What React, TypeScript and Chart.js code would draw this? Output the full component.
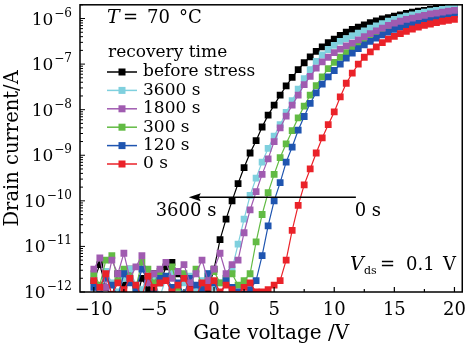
import React, { useEffect, useRef } from "react";
import { Chart, registerables } from "chart.js";

Chart.register(...registerables);

// Gate voltage sweep (V)
const gateVoltage: number[] = [
  -10, -9.5, -9, -8.5, -8, -7.5, -7, -6.5, -6, -5.5, -5, -4.5, -4, -3.5, -3, -2.5, -2, -1.5, -1, -0.5,
  0, 0.5, 1, 1.5, 2, 2.5, 3, 3.5, 4, 4.5, 5, 5.5, 6, 6.5, 7, 7.5, 8, 8.5, 9, 9.5,
  10, 10.5, 11, 11.5, 12, 12.5, 13, 13.5, 14, 14.5, 15, 15.5, 16, 16.5, 17, 17.5, 18, 18.5, 19, 19.5, 20,
];

// log10 of drain current (A)
const logBeforeStress: number[] = [
  -11.75, -11.4, -11.9, -12.1, -11.6, -11.85, -11.5, -12.2, -11.7, -11.95, -11.6, -11.8, -11.45, -11.35, -11.6, -11.75, -11.9, -12.05, -11.8, -11.95,
  -11.5, -10.85, -10.4, -10.0, -9.62, -9.27, -8.95, -8.68, -8.38, -8.12, -7.9, -7.68, -7.48, -7.29, -7.12, -6.97, -6.84, -6.72, -6.62, -6.53,
  -6.45, -6.37, -6.3, -6.24, -6.19, -6.14, -6.09, -6.05, -6.01, -5.98, -5.95, -5.92, -5.89, -5.86, -5.84, -5.82, -5.8, -5.78, -5.76, -5.74, -5.72,
];
const log3600s: number[] = [
  -11.65, -11.9, -11.55, -11.8, -12.0, -11.7, -11.5, -11.85, -11.95, -11.6, -11.75, -12.1, -11.7, -11.55, -11.9, -11.8, -11.65, -12.0, -11.75, -11.6,
  -11.9, -11.8, -11.7, -11.5, -10.95, -10.4, -9.88, -9.5, -9.15, -8.85, -8.58, -8.33, -8.06, -7.8, -7.55, -7.32, -7.12, -6.94, -6.8, -6.68,
  -6.59, -6.5, -6.44, -6.38, -6.32, -6.27, -6.21, -6.16, -6.11, -6.06, -6.02, -5.98, -5.95, -5.92, -5.89, -5.86, -5.84, -5.82, -5.8, -5.78, -5.76,
];
const log1800s: number[] = [
  -11.5, -11.25, -11.9, -11.3, -11.6, -11.15, -11.7, -11.45, -11.2, -11.8, -11.6, -11.5, -11.35, -11.7, -11.55, -11.4, -11.8, -11.6, -11.3, -11.75,
  -11.5, -11.15, -11.6, -11.4, -11.3, -10.7, -10.2, -9.8, -9.42, -9.08, -8.7, -8.4, -8.14, -7.9, -7.68, -7.45, -7.27, -7.09, -6.95, -6.85,
  -6.75, -6.67, -6.6, -6.54, -6.47, -6.4, -6.33, -6.27, -6.21, -6.15, -6.1, -6.06, -6.02, -5.99, -5.96, -5.93, -5.9, -5.88, -5.86, -5.84, -5.82,
];
const log300s: number[] = [
  -11.6, -11.85, -11.3, -11.2, -11.75, -11.5, -11.65, -11.9, -11.35, -11.5, -11.8, -11.55, -11.7, -11.45, -11.9, -11.6, -11.75, -11.5, -11.85, -11.65,
  -11.55, -11.8, -11.7, -11.6, -11.85, -11.75, -11.6, -10.9, -10.3, -9.82, -9.42, -9.05, -8.75, -8.46, -8.18, -7.92, -7.68, -7.47, -7.28, -7.1,
  -6.96, -6.85, -6.75, -6.66, -6.58, -6.5, -6.43, -6.36, -6.3, -6.24, -6.18, -6.13, -6.09, -6.05, -6.02, -5.99, -5.96, -5.93, -5.9, -5.88, -5.86,
];
const log120s: number[] = [
  -11.9, -12.05, -11.7, -11.85, -12.1, -11.6, -11.8, -11.95, -11.5, -11.75, -12.0, -11.7, -11.65, -11.9, -11.8, -12.05, -11.7, -11.85, -11.95, -11.6,
  -11.8, -12.1, -11.75, -11.9, -12.0, -12.05, -11.95, -11.75, -11.2, -10.55, -10.0, -9.6, -9.15, -8.82, -8.45, -8.15, -7.86, -7.63, -7.44, -7.28,
  -7.14, -7.0, -6.87, -6.76, -6.66, -6.58, -6.5, -6.43, -6.36, -6.3, -6.24, -6.19, -6.15, -6.11, -6.07, -6.04, -6.0, -5.98, -5.95, -5.93, -5.91,
];
const log0s: number[] = [
  -11.75, -11.9, -11.6, -12.05, -11.8, -11.95, -11.7, -11.85, -12.1, -11.65, -11.9, -11.8, -11.75, -12.0, -11.85, -11.7, -11.95, -12.1, -11.8, -11.9,
  -11.75, -12.0, -11.85, -11.95, -12.05, -11.9, -11.8, -12.0, -12.0, -11.95, -11.85, -11.75, -11.3, -10.65, -10.1, -9.65, -9.3, -8.95, -8.62, -8.33,
  -8.05, -7.72, -7.42, -7.2, -7.0, -6.85, -6.73, -6.62, -6.53, -6.45, -6.39, -6.33, -6.28, -6.23, -6.19, -6.15, -6.12, -6.09, -6.06, -6.04, -6.02,
];

const seriesLabels: string[] = ["before stress", "3600 s", "1800 s", "300 s", "120 s", "0 s"];
const seriesColors: string[] = ["#000000", "#7fd0de", "#a05bb0", "#62bb44", "#1f55b0", "#ea2229"];
const seriesLogs: number[][] = [logBeforeStress, log3600s, log1800s, log300s, log120s, log0s];
const drawOrder: number[] = [5, 4, 1, 3, 2, 0]; // lower = drawn on top

const xTickValues: number[] = [-10, -5, 0, 5, 10, 15, 20];
const xMinorTicks: number[] = [-7.5, -2.5, 2.5, 7.5, 12.5, 17.5];
const yTickExponents: number[] = [-12, -11, -10, -9, -8, -7, -6];

const FONT = "'DejaVu Serif', serif";

const annotatePlugin = {
  id: "annotate",
  afterDraw(chart: any) {
    const { ctx, chartArea: a } = chart;
    const xs = chart.scales.x;
    const ys = chart.scales.y;
    ctx.save();
    ctx.strokeStyle = "#000";
    ctx.fillStyle = "#000";
    const line = (x1: number, y1: number, x2: number, y2: number) => {
      ctx.beginPath();
      ctx.moveTo(x1, y1);
      ctx.lineTo(x2, y2);
      ctx.stroke();
    };
    // tick marks (inside)
    ctx.lineWidth = 1.2;
    for (const v of xTickValues) {
      const px = xs.getPixelForValue(v);
      line(px, a.bottom, px, a.bottom - 5);
    }
    for (const v of xMinorTicks) {
      const px = xs.getPixelForValue(v);
      line(px, a.bottom, px, a.bottom - 3);
    }
    ctx.lineWidth = 1;
    for (const e of yTickExponents) {
      const py = ys.getPixelForValue(Math.pow(10, e));
      line(a.left, py, a.left + 5, py);
      for (let m = 2; m <= 9; m++) {
        const p2 = ys.getPixelForValue(m * Math.pow(10, e));
        if (p2 >= a.top) line(a.left, p2, a.left + 3, p2);
      }
    }
    // y tick labels: 10 with superscript exponent
    ctx.textBaseline = "alphabetic";
    ctx.textAlign = "left";
    for (const e of yTickExponents) {
      const py = ys.getPixelForValue(Math.pow(10, e));
      const expText = String(e).replace("-", "\u2212");
      ctx.font = `12px ${FONT}`;
      const ew = ctx.measureText(expText).width;
      ctx.font = `17px ${FONT}`;
      const bw = ctx.measureText("10").width;
      const right = a.left - 8;
      ctx.fillText("10", right - ew - bw - 1, py + 6);
      ctx.font = `12px ${FONT}`;
      ctx.fillText(expText, right - ew, py - 2);
    }
    // frame
    ctx.lineWidth = 1.5;
    ctx.strokeRect(a.left, a.top, a.right - a.left, a.bottom - a.top);

    // legend
    ctx.textBaseline = "middle";
    ctx.textAlign = "left";
    ctx.font = `17px ${FONT}`;
    ctx.fillText("recovery time", 108, 53);
    seriesLabels.forEach((lab, k) => {
      const yy = 72 + k * 18.4;
      ctx.strokeStyle = seriesColors[k];
      ctx.lineWidth = 1.5;
      line(107, yy, 137, yy);
      ctx.fillStyle = seriesColors[k];
      ctx.fillRect(122 - 3.5, yy - 3.5, 7, 7);
      ctx.fillStyle = "#000";
      ctx.fillText(lab, 143, yy);
    });

    // T = 70 °C
    ctx.font = `italic 19px ${FONT}`;
    ctx.fillText("T", 107, 18);
    ctx.font = `18px ${FONT}`;
    ctx.fillText("=", 123, 18);
    ctx.fillText("70", 147, 18);
    ctx.fillText("\u00B0C", 179, 18);

    // V_ds = 0.1 V
    ctx.font = `italic 19px ${FONT}`;
    ctx.fillText("V", 350, 265);
    ctx.font = `11px ${FONT}`;
    ctx.fillText("ds", 364, 271);
    ctx.font = `18px ${FONT}`;
    ctx.fillText("=", 380, 265);
    ctx.fillText("0.1", 406, 265);
    ctx.fillText("V", 443, 265);

    // arrow
    const ay = ys.getPixelForValue(1.2e-10);
    const ax1 = xs.getPixelForValue(-2.1);
    const ax2 = xs.getPixelForValue(11.8);
    ctx.strokeStyle = "#000";
    ctx.fillStyle = "#000";
    ctx.lineWidth = 1.5;
    line(ax1 + 8, ay, ax2, ay);
    ctx.beginPath();
    ctx.moveTo(ax1, ay);
    ctx.lineTo(ax1 + 12, ay - 4);
    ctx.lineTo(ax1 + 10, ay);
    ctx.lineTo(ax1 + 12, ay + 4);
    ctx.closePath();
    ctx.fill();
    const ty = ys.getPixelForValue(5.9e-11);
    ctx.font = `18px ${FONT}`;
    ctx.textAlign = "right";
    ctx.fillText("3600 s", xs.getPixelForValue(0.2), ty);
    ctx.textAlign = "left";
    ctx.fillText("0 s", xs.getPixelForValue(11.7), ty);
    ctx.restore();
  },
};

export default function App() {
  const ref = useRef<HTMLCanvasElement>(null);
  useEffect(() => {
    if (!ref.current) return;
    Chart.defaults.font.family = FONT;
    Chart.defaults.color = "#000";
    const datasets = seriesLabels.map((label, k) => ({
      label,
      data: gateVoltage.map((v, i) => ({ x: v, y: Math.pow(10, seriesLogs[k][i]) })),
      borderColor: seriesColors[k],
      backgroundColor: seriesColors[k],
      borderWidth: 1.2,
      pointStyle: "rect" as const,
      pointRadius: 4.8,
      pointBorderWidth: 0,
      pointBackgroundColor: seriesColors[k],
      order: drawOrder[k],
      tension: 0,
    }));
    const chart = new Chart(ref.current, {
      type: "line",
      data: { datasets },
      options: {
        animation: false,
        responsive: false,
        events: [],
        layout: { padding: { top: 3, right: 5, left: 0, bottom: 0 } },
        plugins: { legend: { display: false }, tooltip: { enabled: false } },
        scales: {
          x: {
            type: "linear",
            min: -11.15,
            max: 20.65,
            grid: { display: false, drawTicks: false },
            border: { display: false },
            afterBuildTicks: (s: any) => {
              s.ticks = xTickValues.map((v) => ({ value: v }));
            },
            afterFit: (s: any) => {
              s.height = 56;
            },
            ticks: {
              autoSkip: false,
              maxRotation: 0,
              padding: 8,
              font: { size: 18, family: FONT },
              color: "#000",
              callback: (v: any) => String(v).replace("-", "\u2212"),
            },
            title: {
              display: true,
              text: "Gate voltage /V",
              font: { size: 20, family: FONT },
              color: "#000",
              padding: { top: 0, bottom: 2 },
            },
          },
          y: {
            type: "logarithmic",
            min: 1e-12,
            max: 2e-6,
            grid: { display: false, drawTicks: false },
            border: { display: false },
            afterBuildTicks: (s: any) => {
              s.ticks = yTickExponents.map((e) => ({ value: Math.pow(10, e) }));
            },
            afterFit: (s: any) => {
              s.width = 80;
            },
            ticks: {
              display: false,
            },
            title: {
              display: true,
              text: "Drain current/A",
              font: { size: 19.5, family: FONT },
              color: "#000",
              padding: { top: 1, bottom: 0 },
            },
          },
        },
      },
      plugins: [annotatePlugin],
    });
    return () => chart.destroy();
  }, []);
  return (
    <div style={{ position: "absolute", left: 0, top: 0, width: 474, height: 348, background: "#fff" }}>
      <canvas ref={ref} width={474} height={348} style={{ display: "block" }} />
    </div>
  );
}
